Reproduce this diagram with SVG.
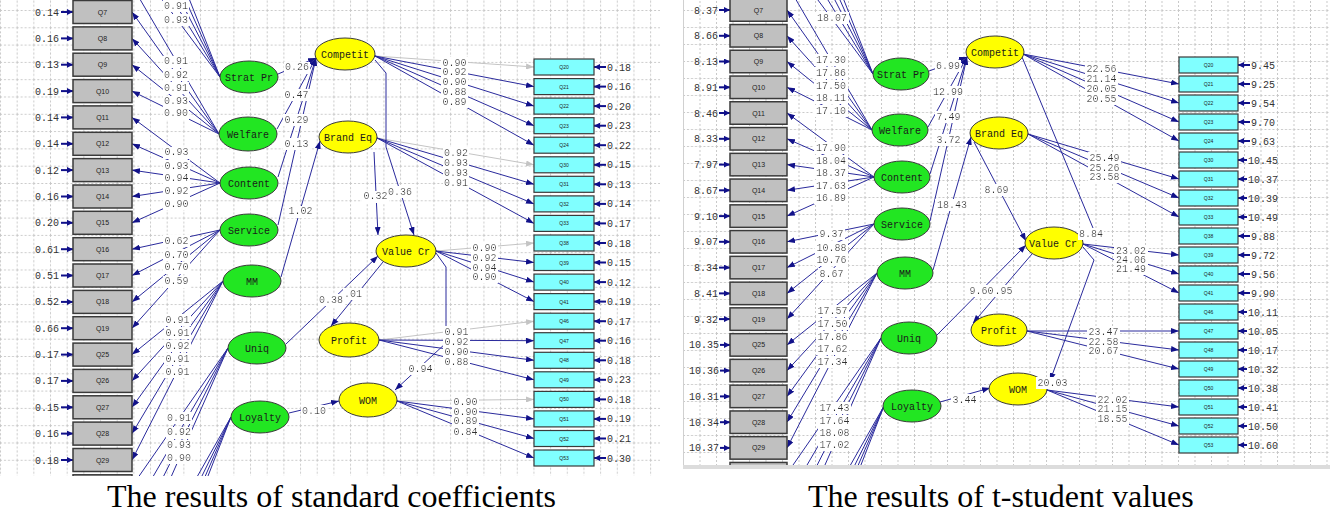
<svg xmlns="http://www.w3.org/2000/svg" width="1330" height="513" viewBox="0 0 1330 513">
<style>
.ln{fill:none;stroke:#2a2a9c;stroke-width:1;marker-end:url(#ah)}
.lg{fill:none;stroke:#c4c4c4;stroke-width:1;marker-end:url(#ahg)}
.er{fill:none;stroke:#10108a;stroke-width:2;marker-end:url(#ae)}
.lb{font-family:"Liberation Mono",monospace;font-size:10px;fill:#333;text-anchor:middle;filter:url(#bg)}
.ev{font-family:"Liberation Mono",monospace;font-size:10px;fill:#333}
.evr{font-family:"Liberation Mono",monospace;font-size:10px;fill:#333;text-anchor:end}
.nm{font-family:"Liberation Mono",monospace;font-size:10px;fill:#1a1a1a;text-anchor:middle}
.gb{fill:#c0c0c0;stroke:#3a3a3a;stroke-width:1.5}
.cb{fill:#80ffff;stroke:#3a3a3a;stroke-width:1.2}
.ge{fill:#22e622;stroke:#3a3a3a;stroke-width:1}
.ye{fill:#ffff00;stroke:#3a3a3a;stroke-width:1}
.qg{font-family:"Liberation Sans",sans-serif;font-size:7px;fill:#222;text-anchor:middle}
.qc{font-family:"Liberation Sans",sans-serif;font-size:5px;fill:#222;text-anchor:middle}
.cap{font-family:"Liberation Serif","Times New Roman",serif;font-size:32px;fill:#000}
</style>
<defs>
<marker id="ah" viewBox="0 0 8 6" refX="8" refY="3" markerWidth="8" markerHeight="6" markerUnits="userSpaceOnUse" orient="auto"><path d="M0,0L8,3L0,6z" fill="#12128a"/></marker>
<marker id="ahg" viewBox="0 0 8 6" refX="8" refY="3" markerWidth="8" markerHeight="6" markerUnits="userSpaceOnUse" orient="auto"><path d="M0,0L8,3L0,6z" fill="#c4c4c4"/></marker>
<marker id="ae" viewBox="0 0 6 6" refX="6" refY="3" markerWidth="6" markerHeight="6" markerUnits="userSpaceOnUse" orient="auto"><path d="M0,0L6,3L0,6z" fill="#10108a"/></marker>
<filter id="bg" x="-0.04" y="0" width="1.08" height="1"><feFlood flood-color="#ffffff" result="f"/><feComposite in="SourceGraphic" in2="f" operator="over"/></filter>
<pattern id="gridL" x="0" y="10" width="16.67" height="17.3" patternUnits="userSpaceOnUse"><path d="M0.5,0V17.3M0,0.5H16.67" stroke="#c8c8c8" stroke-width="1" stroke-dasharray="2,2" fill="none"/></pattern>
<pattern id="gridR" x="683" y="10" width="16.5" height="17" patternUnits="userSpaceOnUse"><path d="M0.5,0V17M0,0.5H16.5" stroke="#c8c8c8" stroke-width="1" stroke-dasharray="2,2" fill="none"/></pattern>
<clipPath id="cL"><rect x="0" y="0" width="660" height="476"/></clipPath>
<clipPath id="cR"><rect x="683" y="0" width="647" height="465"/></clipPath>
</defs>
<rect x="0" y="0" width="1330" height="513" fill="#ffffff"/>

<!-- ================= LEFT PANEL ================= -->
<g id="left-diagram" clip-path="url(#cL)">
<rect x="0" y="0" width="660" height="476" fill="url(#gridL)"/>
<g id="L-connectors">
<path class="ln" d="M220,77L132,-146.1"/><path class="ln" d="M220,77L132,-119.75"/><path class="ln" d="M220,77L132,-93.4"/><path class="ln" d="M220,77L132,-67.05"/><path class="ln" d="M220,77L132,-40.7"/>
<path class="ln" d="M219,134L132,-14.35"/><path class="ln" d="M219,134L132,12"/><path class="ln" d="M219,134L132,38.4"/><path class="ln" d="M219,134L132,64.7"/><path class="ln" d="M219,134L132,91.1"/>
<path class="ln" d="M220,183L132,117.4"/><path class="ln" d="M220,183L132,143.8"/><path class="ln" d="M220,183L132,170.1"/><path class="ln" d="M220,183L132,196.5"/><path class="ln" d="M220,183L132,222.8"/>
<path class="ln" d="M220,230L132,249.2"/><path class="ln" d="M220,230L132,275.5"/><path class="ln" d="M220,230L132,301.9"/><path class="ln" d="M220,230L132,328.2"/>
<path class="ln" d="M223,281L132,354.6"/><path class="ln" d="M223,281L132,380.9"/><path class="ln" d="M223,281L132,407.3"/><path class="ln" d="M223,281L132,433.6"/><path class="ln" d="M223,281L132,460"/>
<path class="ln" d="M228,348L132,486.3"/><path class="ln" d="M228,348L132,512.7"/><path class="ln" d="M228,348L132,539"/><path class="ln" d="M228,348L132,565.4"/>
<path class="ln" d="M231,417L132,591.7"/><path class="ln" d="M231,417L132,618.1"/><path class="ln" d="M231,417L132,644.4"/><path class="ln" d="M231,417L132,670.8"/>
<path class="lg" d="M375,56L534,67"/><path class="ln" d="M375,56L534,86.6"/><path class="ln" d="M375,56L534,106.1"/><path class="ln" d="M375,56L534,125.7"/><path class="ln" d="M375,56L534,145.2"/>
<path class="lg" d="M377,138L534,164.8"/><path class="ln" d="M377,138L534,184.3"/><path class="ln" d="M377,138L534,203.9"/><path class="ln" d="M377,138L534,223.4"/>
<path class="lg" d="M436,251L534,243"/><path class="ln" d="M436,251L534,262.5"/><path class="ln" d="M436,251L534,282.1"/><path class="ln" d="M436,251L534,301.6"/>
<path class="lg" d="M379,340L534,321.2"/><path class="ln" d="M379,340L534,340.7"/><path class="ln" d="M379,340L534,360.3"/><path class="ln" d="M379,340L534,379.8"/>
<path class="lg" d="M397,401L534,399.4"/><path class="ln" d="M397,401L534,418.9"/><path class="ln" d="M397,401L534,438.5"/><path class="ln" d="M397,401L534,458"/>
<path class="ln" d="M278,74L316,58"/><path class="ln" d="M277,129L316,58"/><path class="ln" d="M278,177L316,58"/><path class="ln" d="M278,225L316,58"/>
<path class="ln" d="M281,277L320,141"/>
<path class="ln" d="M374,152L378,235"/>
<path class="ln" d="M375,60L386,73L386,147L414,235"/>
<path class="ln" d="M286,344L378,256"/>
<path class="ln" d="M383,262L331,326"/>
<path class="ln" d="M436,253L446,267L446,343L395,390"/>
<path class="ln" d="M289,413L339,401"/>
<path class="er" d="M61,12H73"/><path class="er" d="M61,38.4H73"/><path class="er" d="M61,64.7H73"/><path class="er" d="M61,91.1H73"/><path class="er" d="M61,117.4H73"/><path class="er" d="M61,143.8H73"/><path class="er" d="M61,170.1H73"/><path class="er" d="M61,196.5H73"/><path class="er" d="M61,222.8H73"/><path class="er" d="M61,249.2H73"/><path class="er" d="M61,275.5H73"/><path class="er" d="M61,301.9H73"/><path class="er" d="M61,328.2H73"/><path class="er" d="M61,354.6H73"/><path class="er" d="M61,380.9H73"/><path class="er" d="M61,407.3H73"/><path class="er" d="M61,433.6H73"/><path class="er" d="M61,460H73"/>
<path class="er" d="M606,67H594"/><path class="er" d="M606,86.6H594"/><path class="er" d="M606,106.1H594"/><path class="er" d="M606,125.7H594"/><path class="er" d="M606,145.2H594"/><path class="er" d="M606,164.8H594"/><path class="er" d="M606,184.3H594"/><path class="er" d="M606,203.9H594"/><path class="er" d="M606,223.4H594"/><path class="er" d="M606,243H594"/><path class="er" d="M606,262.5H594"/><path class="er" d="M606,282.1H594"/><path class="er" d="M606,301.6H594"/><path class="er" d="M606,321.2H594"/><path class="er" d="M606,340.7H594"/><path class="er" d="M606,360.3H594"/><path class="er" d="M606,379.8H594"/><path class="er" d="M606,399.4H594"/><path class="er" d="M606,418.9H594"/><path class="er" d="M606,438.5H594"/><path class="er" d="M606,458H594"/>
</g>
<g id="L-Q7"><rect class="gb" x="73" y="0.5" width="59" height="23"/><text class="qg" x="102.5" y="14.5">Q7</text></g>
<g id="L-Q8"><rect class="gb" x="73" y="26.9" width="59" height="23"/><text class="qg" x="102.5" y="40.9">Q8</text></g>
<g id="L-Q9"><rect class="gb" x="73" y="53.2" width="59" height="23"/><text class="qg" x="102.5" y="67.2">Q9</text></g>
<g id="L-Q10"><rect class="gb" x="73" y="79.6" width="59" height="23"/><text class="qg" x="102.5" y="93.6">Q10</text></g>
<g id="L-Q11"><rect class="gb" x="73" y="105.9" width="59" height="23"/><text class="qg" x="102.5" y="119.9">Q11</text></g>
<g id="L-Q12"><rect class="gb" x="73" y="132.3" width="59" height="23"/><text class="qg" x="102.5" y="146.3">Q12</text></g>
<g id="L-Q13"><rect class="gb" x="73" y="158.6" width="59" height="23"/><text class="qg" x="102.5" y="172.6">Q13</text></g>
<g id="L-Q14"><rect class="gb" x="73" y="185" width="59" height="23"/><text class="qg" x="102.5" y="199">Q14</text></g>
<g id="L-Q15"><rect class="gb" x="73" y="211.3" width="59" height="23"/><text class="qg" x="102.5" y="225.3">Q15</text></g>
<g id="L-Q16"><rect class="gb" x="73" y="237.7" width="59" height="23"/><text class="qg" x="102.5" y="251.7">Q16</text></g>
<g id="L-Q17"><rect class="gb" x="73" y="264" width="59" height="23"/><text class="qg" x="102.5" y="278">Q17</text></g>
<g id="L-Q18"><rect class="gb" x="73" y="290.4" width="59" height="23"/><text class="qg" x="102.5" y="304.4">Q18</text></g>
<g id="L-Q19"><rect class="gb" x="73" y="316.7" width="59" height="23"/><text class="qg" x="102.5" y="330.7">Q19</text></g>
<g id="L-Q25"><rect class="gb" x="73" y="343.1" width="59" height="23"/><text class="qg" x="102.5" y="357.1">Q25</text></g>
<g id="L-Q26"><rect class="gb" x="73" y="369.4" width="59" height="23"/><text class="qg" x="102.5" y="383.4">Q26</text></g>
<g id="L-Q27"><rect class="gb" x="73" y="395.8" width="59" height="23"/><text class="qg" x="102.5" y="409.8">Q27</text></g>
<g id="L-Q28"><rect class="gb" x="73" y="422.1" width="59" height="23"/><text class="qg" x="102.5" y="436.1">Q28</text></g>
<g id="L-Q29"><rect class="gb" x="73" y="448.5" width="59" height="23"/><text class="qg" x="102.5" y="462.5">Q29</text></g>
<g id="L-Qnext"><rect class="gb" x="73" y="474.8" width="59" height="23"/></g>
<g id="L-StratPr"><ellipse class="ge" cx="249" cy="77" rx="29" ry="16"/><text class="nm" x="249" y="80.5">Strat Pr</text></g>
<g id="L-Welfare"><ellipse class="ge" cx="248" cy="134" rx="29" ry="17"/><text class="nm" x="248" y="137.5">Welfare</text></g>
<g id="L-Content"><ellipse class="ge" cx="249" cy="183" rx="29" ry="16"/><text class="nm" x="249" y="186.5">Content</text></g>
<g id="L-Service"><ellipse class="ge" cx="249" cy="230" rx="29" ry="16"/><text class="nm" x="249" y="233.5">Service</text></g>
<g id="L-MM"><ellipse class="ge" cx="252" cy="281" rx="29" ry="16"/><text class="nm" x="252" y="284.5">MM</text></g>
<g id="L-Uniq"><ellipse class="ge" cx="257" cy="348" rx="29" ry="16"/><text class="nm" x="257" y="351.5">Uniq</text></g>
<g id="L-Loyalty"><ellipse class="ge" cx="260" cy="417" rx="29" ry="16"/><text class="nm" x="260" y="420.5">Loyalty</text></g>
<g id="L-Competit"><ellipse class="ye" cx="345" cy="54" rx="30" ry="16"/><text class="nm" x="345" y="57.5">Competit</text></g>
<g id="L-BrandEq"><ellipse class="ye" cx="348" cy="137" rx="29" ry="16"/><text class="nm" x="348" y="140.5">Brand Eq</text></g>
<g id="L-ValueCr"><ellipse class="ye" cx="406" cy="251" rx="30" ry="16"/><text class="nm" x="406" y="254.5">Value Cr</text></g>
<g id="L-Profit"><ellipse class="ye" cx="349" cy="340" rx="30" ry="17"/><text class="nm" x="349" y="343.5">Profit</text></g>
<g id="L-WOM"><ellipse class="ye" cx="368" cy="400" rx="29" ry="17"/><text class="nm" x="368" y="403.5">WOM</text></g>
<g id="L-C20"><rect class="cb" x="534" y="59" width="60" height="16"/><text class="qc" x="564" y="69">Q20</text></g>
<g id="L-C21"><rect class="cb" x="534" y="78.6" width="60" height="16"/><text class="qc" x="564" y="88.6">Q21</text></g>
<g id="L-C22"><rect class="cb" x="534" y="98.1" width="60" height="16"/><text class="qc" x="564" y="108.1">Q22</text></g>
<g id="L-C23"><rect class="cb" x="534" y="117.7" width="60" height="16"/><text class="qc" x="564" y="127.7">Q23</text></g>
<g id="L-C24"><rect class="cb" x="534" y="137.2" width="60" height="16"/><text class="qc" x="564" y="147.2">Q24</text></g>
<g id="L-C30"><rect class="cb" x="534" y="156.8" width="60" height="16"/><text class="qc" x="564" y="166.8">Q30</text></g>
<g id="L-C31"><rect class="cb" x="534" y="176.3" width="60" height="16"/><text class="qc" x="564" y="186.3">Q31</text></g>
<g id="L-C32"><rect class="cb" x="534" y="195.9" width="60" height="16"/><text class="qc" x="564" y="205.9">Q32</text></g>
<g id="L-C33"><rect class="cb" x="534" y="215.4" width="60" height="16"/><text class="qc" x="564" y="225.4">Q33</text></g>
<g id="L-C38"><rect class="cb" x="534" y="235" width="60" height="16"/><text class="qc" x="564" y="245">Q38</text></g>
<g id="L-C39"><rect class="cb" x="534" y="254.5" width="60" height="16"/><text class="qc" x="564" y="264.5">Q39</text></g>
<g id="L-C40"><rect class="cb" x="534" y="274.1" width="60" height="16"/><text class="qc" x="564" y="284.1">Q40</text></g>
<g id="L-C41"><rect class="cb" x="534" y="293.6" width="60" height="16"/><text class="qc" x="564" y="303.6">Q41</text></g>
<g id="L-C46"><rect class="cb" x="534" y="313.2" width="60" height="16"/><text class="qc" x="564" y="323.2">Q46</text></g>
<g id="L-C47"><rect class="cb" x="534" y="332.7" width="60" height="16"/><text class="qc" x="564" y="342.7">Q47</text></g>
<g id="L-C48"><rect class="cb" x="534" y="352.3" width="60" height="16"/><text class="qc" x="564" y="362.3">Q48</text></g>
<g id="L-C49"><rect class="cb" x="534" y="371.8" width="60" height="16"/><text class="qc" x="564" y="381.8">Q49</text></g>
<g id="L-C50"><rect class="cb" x="534" y="391.4" width="60" height="16"/><text class="qc" x="564" y="401.4">Q50</text></g>
<g id="L-C51"><rect class="cb" x="534" y="410.9" width="60" height="16"/><text class="qc" x="564" y="420.9">Q51</text></g>
<g id="L-C52"><rect class="cb" x="534" y="430.5" width="60" height="16"/><text class="qc" x="564" y="440.5">Q52</text></g>
<g id="L-C53"><rect class="cb" x="534" y="450" width="60" height="16"/><text class="qc" x="564" y="460">Q53</text></g>
<g id="L-labels">
<text class="evr" x="59" y="15.5">0.14</text><text class="evr" x="59" y="41.9">0.16</text><text class="evr" x="59" y="68.2">0.13</text><text class="evr" x="59" y="94.6">0.19</text><text class="evr" x="59" y="120.9">0.14</text><text class="evr" x="59" y="147.3">0.14</text><text class="evr" x="59" y="173.6">0.12</text><text class="evr" x="59" y="200">0.16</text><text class="evr" x="59" y="226.3">0.20</text><text class="evr" x="59" y="252.7">0.61</text><text class="evr" x="59" y="279">0.51</text><text class="evr" x="59" y="305.4">0.52</text><text class="evr" x="59" y="331.7">0.66</text><text class="evr" x="59" y="358.1">0.17</text><text class="evr" x="59" y="384.4">0.17</text><text class="evr" x="59" y="410.8">0.15</text><text class="evr" x="59" y="437.1">0.16</text><text class="evr" x="59" y="463.5">0.18</text>
<text class="ev" x="607" y="70.5">0.18</text><text class="ev" x="607" y="90.1">0.16</text><text class="ev" x="607" y="109.6">0.20</text><text class="ev" x="607" y="129.2">0.23</text><text class="ev" x="607" y="148.7">0.22</text><text class="ev" x="607" y="168.3">0.15</text><text class="ev" x="607" y="187.8">0.13</text><text class="ev" x="607" y="207.4">0.14</text><text class="ev" x="607" y="226.9">0.17</text><text class="ev" x="607" y="246.5">0.18</text><text class="ev" x="607" y="266">0.15</text><text class="ev" x="607" y="285.6">0.12</text><text class="ev" x="607" y="305.1">0.19</text><text class="ev" x="607" y="324.7">0.17</text><text class="ev" x="607" y="344.2">0.16</text><text class="ev" x="607" y="363.8">0.18</text><text class="ev" x="607" y="383.3">0.23</text><text class="ev" x="607" y="402.9">0.18</text><text class="ev" x="607" y="422.4">0.19</text><text class="ev" x="607" y="442">0.21</text><text class="ev" x="607" y="461.5">0.30</text>
<text class="lb" x="176" y="8.5">0.91</text><text class="lb" x="176" y="22.5">0.93</text>
<text class="lb" x="176" y="64.2">0.91</text><text class="lb" x="176" y="77.5">0.92</text><text class="lb" x="176" y="90.8">0.91</text><text class="lb" x="176" y="104.2">0.93</text><text class="lb" x="176" y="116.2">0.90</text>
<text class="lb" x="176.5" y="155.2">0.93</text><text class="lb" x="176.5" y="168.5">0.93</text><text class="lb" x="176.5" y="181.2">0.94</text><text class="lb" x="176.5" y="194.2">0.92</text><text class="lb" x="176.5" y="206.8">0.90</text>
<text class="lb" x="176.5" y="243.5">0.62</text><text class="lb" x="176.5" y="257.5">0.70</text><text class="lb" x="176.5" y="270.2">0.70</text><text class="lb" x="176.5" y="284.2">0.59</text>
<text class="lb" x="177.5" y="322.5">0.91</text><text class="lb" x="177.5" y="335.5">0.91</text><text class="lb" x="177.5" y="348.5">0.92</text><text class="lb" x="177.5" y="361.8">0.91</text><text class="lb" x="177.5" y="374.5">0.91</text>
<text class="lb" x="179" y="420.8">0.91</text><text class="lb" x="179" y="435.2">0.92</text><text class="lb" x="179" y="448.2">0.93</text><text class="lb" x="179" y="460.5">0.90</text>
<text class="lb" x="454.5" y="65.5">0.90</text><text class="lb" x="454.5" y="74.5">0.92</text><text class="lb" x="454.5" y="84.5">0.90</text><text class="lb" x="454.5" y="94.5">0.88</text><text class="lb" x="454.5" y="104.5">0.89</text>
<text class="lb" x="456" y="155.5">0.92</text><text class="lb" x="456" y="165.5">0.93</text><text class="lb" x="456" y="175.5">0.93</text><text class="lb" x="456" y="185.5">0.91</text>
<text class="lb" x="484.5" y="250.5">0.90</text><text class="lb" x="484.5" y="260.5">0.92</text><text class="lb" x="484.5" y="270.5">0.94</text><text class="lb" x="484.5" y="279.5">0.90</text>
<text class="lb" x="456.5" y="334.5">0.91</text><text class="lb" x="456.5" y="344.5">0.92</text><text class="lb" x="456.5" y="354.5">0.90</text><text class="lb" x="456.5" y="364.5">0.88</text>
<text class="lb" x="465.5" y="404.5">0.90</text><text class="lb" x="465.5" y="414.5">0.90</text><text class="lb" x="465.5" y="423.5">0.89</text><text class="lb" x="465.5" y="434.5">0.84</text>
<text class="lb" x="297" y="70.2">0.26</text><text class="lb" x="296.5" y="97.8">0.47</text><text class="lb" x="296.5" y="122.5">0.29</text><text class="lb" x="296.5" y="146.8">0.13</text>
<text class="lb" x="300.5" y="214.2">1.02</text><text class="lb" x="375.5" y="199.2">0.32</text><text class="lb" x="400" y="194.5">0.36</text>
<text class="lb" x="353" y="296.5">.01</text><text class="lb" x="331" y="302.5">0.38</text>
<text class="lb" x="420.5" y="371.5">0.94</text><text class="lb" x="314" y="413.5">0.10</text>
</g>
</g>

<!-- ================= RIGHT PANEL ================= -->
<g id="right-diagram" clip-path="url(#cR)">
<rect x="683" y="0" width="647" height="465" fill="url(#gridR)"/>
<g id="R-connectors">
<path class="ln" d="M873,74L787,-144.56"/><path class="ln" d="M873,74L787,-118.8"/><path class="ln" d="M873,74L787,-93.04"/><path class="ln" d="M873,74L787,-67.28"/><path class="ln" d="M873,74L787,-41.52"/>
<path class="ln" d="M872,130L787,-15.76"/><path class="ln" d="M872,130L787,10"/><path class="ln" d="M872,130L787,35.8"/><path class="ln" d="M872,130L787,61.5"/><path class="ln" d="M872,130L787,87.3"/>
<path class="ln" d="M874,177L787,113"/><path class="ln" d="M874,177L787,138.8"/><path class="ln" d="M874,177L787,164.6"/><path class="ln" d="M874,177L787,190.3"/><path class="ln" d="M874,177L787,216.1"/>
<path class="ln" d="M874,224L787,241.8"/><path class="ln" d="M874,224L787,267.6"/><path class="ln" d="M874,224L787,293.4"/><path class="ln" d="M874,224L787,319.1"/>
<path class="ln" d="M877,273L787,344.9"/><path class="ln" d="M877,273L787,370.6"/><path class="ln" d="M877,273L787,396.4"/><path class="ln" d="M877,273L787,422.2"/><path class="ln" d="M877,273L787,447.9"/>
<path class="ln" d="M881,338L787,473.7"/><path class="ln" d="M881,338L787,499.46"/><path class="ln" d="M881,338L787,525.22"/><path class="ln" d="M881,338L787,550.98"/>
<path class="ln" d="M884,406L787,576.74"/><path class="ln" d="M884,406L787,602.5"/><path class="ln" d="M884,406L787,628.26"/><path class="ln" d="M884,406L787,654.02"/>
<path class="ln" d="M1023,54L1179,84"/><path class="ln" d="M1023,54L1179,103"/><path class="ln" d="M1023,54L1179,122"/><path class="ln" d="M1023,54L1179,141"/>
<path class="ln" d="M1028,134L1179,179"/><path class="ln" d="M1028,134L1179,198"/><path class="ln" d="M1028,134L1179,217"/>
<path class="ln" d="M1083,244L1179,255"/><path class="ln" d="M1083,244L1179,274"/><path class="ln" d="M1083,244L1179,293"/>
<path class="ln" d="M1027,331L1179,331"/><path class="ln" d="M1027,331L1179,350"/><path class="ln" d="M1027,331L1179,369"/>
<path class="ln" d="M1047,390L1179,407"/><path class="ln" d="M1047,390L1179,426"/><path class="ln" d="M1047,390L1179,445"/>
<path class="ln" d="M929,71L967,57"/><path class="ln" d="M928,127L967,57"/><path class="ln" d="M930,174L967,57"/><path class="ln" d="M930,221L967,57"/>
<path class="ln" d="M933,270L971,137"/>
<path class="ln" d="M974,142L1026,241"/>
<path class="ln" d="M1022,57L1093,228L1084,240"/>
<path class="ln" d="M937,335L1026,245"/>
<path class="ln" d="M1032,254L973,323"/>
<path class="ln" d="M1083,247L1094,260L1050,381"/>
<path class="ln" d="M940,402L990,388"/>
<path class="er" d="M719,10H730"/><path class="er" d="M719,35.8H730"/><path class="er" d="M719,61.5H730"/><path class="er" d="M719,87.3H730"/><path class="er" d="M719,113H730"/><path class="er" d="M719,138.8H730"/><path class="er" d="M719,164.6H730"/><path class="er" d="M719,190.3H730"/><path class="er" d="M719,216.1H730"/><path class="er" d="M719,241.8H730"/><path class="er" d="M719,267.6H730"/><path class="er" d="M719,293.4H730"/><path class="er" d="M719,319.1H730"/><path class="er" d="M720,344.9H730"/><path class="er" d="M720,370.6H730"/><path class="er" d="M720,396.4H730"/><path class="er" d="M720,422.2H730"/><path class="er" d="M720,447.9H730"/>
<path class="er" d="M1250,65H1238"/><path class="er" d="M1250,84H1238"/><path class="er" d="M1250,103H1238"/><path class="er" d="M1250,122H1238"/><path class="er" d="M1250,141H1238"/><path class="er" d="M1247,160H1238"/><path class="er" d="M1247,179H1238"/><path class="er" d="M1247,198H1238"/><path class="er" d="M1247,217H1238"/><path class="er" d="M1250,236H1238"/><path class="er" d="M1250,255H1238"/><path class="er" d="M1250,274H1238"/><path class="er" d="M1250,293H1238"/><path class="er" d="M1247,312H1238"/><path class="er" d="M1247,331H1238"/><path class="er" d="M1247,350H1238"/><path class="er" d="M1247,369H1238"/><path class="er" d="M1247,388H1238"/><path class="er" d="M1247,407H1238"/><path class="er" d="M1247,426H1238"/><path class="er" d="M1247,445H1238"/>
</g>
<g id="R-Q7"><rect class="gb" x="730" y="-1.25" width="57" height="22.5"/><text class="qg" x="758.5" y="12.5">Q7</text></g>
<g id="R-Q8"><rect class="gb" x="730" y="24.55" width="57" height="22.5"/><text class="qg" x="758.5" y="38.3">Q8</text></g>
<g id="R-Q9"><rect class="gb" x="730" y="50.25" width="57" height="22.5"/><text class="qg" x="758.5" y="64">Q9</text></g>
<g id="R-Q10"><rect class="gb" x="730" y="76.05" width="57" height="22.5"/><text class="qg" x="758.5" y="89.8">Q10</text></g>
<g id="R-Q11"><rect class="gb" x="730" y="101.75" width="57" height="22.5"/><text class="qg" x="758.5" y="115.5">Q11</text></g>
<g id="R-Q12"><rect class="gb" x="730" y="127.55" width="57" height="22.5"/><text class="qg" x="758.5" y="141.3">Q12</text></g>
<g id="R-Q13"><rect class="gb" x="730" y="153.35" width="57" height="22.5"/><text class="qg" x="758.5" y="167.1">Q13</text></g>
<g id="R-Q14"><rect class="gb" x="730" y="179.05" width="57" height="22.5"/><text class="qg" x="758.5" y="192.8">Q14</text></g>
<g id="R-Q15"><rect class="gb" x="730" y="204.85" width="57" height="22.5"/><text class="qg" x="758.5" y="218.6">Q15</text></g>
<g id="R-Q16"><rect class="gb" x="730" y="230.55" width="57" height="22.5"/><text class="qg" x="758.5" y="244.3">Q16</text></g>
<g id="R-Q17"><rect class="gb" x="730" y="256.35" width="57" height="22.5"/><text class="qg" x="758.5" y="270.1">Q17</text></g>
<g id="R-Q18"><rect class="gb" x="730" y="282.15" width="57" height="22.5"/><text class="qg" x="758.5" y="295.9">Q18</text></g>
<g id="R-Q19"><rect class="gb" x="730" y="307.85" width="57" height="22.5"/><text class="qg" x="758.5" y="321.6">Q19</text></g>
<g id="R-Q25"><rect class="gb" x="730" y="333.65" width="57" height="22.5"/><text class="qg" x="758.5" y="347.4">Q25</text></g>
<g id="R-Q26"><rect class="gb" x="730" y="359.35" width="57" height="22.5"/><text class="qg" x="758.5" y="373.1">Q26</text></g>
<g id="R-Q27"><rect class="gb" x="730" y="385.15" width="57" height="22.5"/><text class="qg" x="758.5" y="398.9">Q27</text></g>
<g id="R-Q28"><rect class="gb" x="730" y="410.95" width="57" height="22.5"/><text class="qg" x="758.5" y="424.7">Q28</text></g>
<g id="R-Q29"><rect class="gb" x="730" y="436.65" width="57" height="22.5"/><text class="qg" x="758.5" y="450.4">Q29</text></g>
<g id="R-Qnext"><rect class="gb" x="730" y="462.45" width="57" height="22.5"/></g>
<g id="R-StratPr"><ellipse class="ge" cx="901" cy="74" rx="28" ry="16"/><text class="nm" x="901" y="77.5">Strat Pr</text></g>
<g id="R-Welfare"><ellipse class="ge" cx="900" cy="130" rx="28" ry="16"/><text class="nm" x="900" y="133.5">Welfare</text></g>
<g id="R-Content"><ellipse class="ge" cx="902" cy="177" rx="28" ry="16"/><text class="nm" x="902" y="180.5">Content</text></g>
<g id="R-Service"><ellipse class="ge" cx="902" cy="224" rx="28" ry="16"/><text class="nm" x="902" y="227.5">Service</text></g>
<g id="R-MM"><ellipse class="ge" cx="905" cy="273" rx="28" ry="16"/><text class="nm" x="905" y="276.5">MM</text></g>
<g id="R-Uniq"><ellipse class="ge" cx="909" cy="338" rx="28" ry="16"/><text class="nm" x="909" y="341.5">Uniq</text></g>
<g id="R-Loyalty"><ellipse class="ge" cx="912" cy="406" rx="29" ry="16"/><text class="nm" x="912" y="409.5">Loyalty</text></g>
<g id="R-Competit"><ellipse class="ye" cx="995" cy="52" rx="29" ry="16"/><text class="nm" x="995" y="55.5">Competit</text></g>
<g id="R-BrandEq"><ellipse class="ye" cx="999" cy="133" rx="29" ry="16"/><text class="nm" x="999" y="136.5">Brand Eq</text></g>
<g id="R-ValueCr"><ellipse class="ye" cx="1054" cy="243" rx="29" ry="16"/><text class="nm" x="1053" y="246.5">Value Cr</text></g>
<g id="R-Profit"><ellipse class="ye" cx="999" cy="330" rx="28" ry="16"/><text class="nm" x="999" y="333.5">Profit</text></g>
<g id="R-WOM"><ellipse class="ye" cx="1018" cy="389" rx="29" ry="16"/><text class="nm" x="1018" y="392.5">WOM</text></g>
<g id="R-C20"><rect class="cb" x="1179" y="57" width="59" height="16"/><text class="qc" x="1208.5" y="67">Q20</text></g>
<g id="R-C21"><rect class="cb" x="1179" y="76" width="59" height="16"/><text class="qc" x="1208.5" y="86">Q21</text></g>
<g id="R-C22"><rect class="cb" x="1179" y="95" width="59" height="16"/><text class="qc" x="1208.5" y="105">Q22</text></g>
<g id="R-C23"><rect class="cb" x="1179" y="114" width="59" height="16"/><text class="qc" x="1208.5" y="124">Q23</text></g>
<g id="R-C24"><rect class="cb" x="1179" y="133" width="59" height="16"/><text class="qc" x="1208.5" y="143">Q24</text></g>
<g id="R-C30"><rect class="cb" x="1179" y="152" width="59" height="16"/><text class="qc" x="1208.5" y="162">Q30</text></g>
<g id="R-C31"><rect class="cb" x="1179" y="171" width="59" height="16"/><text class="qc" x="1208.5" y="181">Q31</text></g>
<g id="R-C32"><rect class="cb" x="1179" y="190" width="59" height="16"/><text class="qc" x="1208.5" y="200">Q32</text></g>
<g id="R-C33"><rect class="cb" x="1179" y="209" width="59" height="16"/><text class="qc" x="1208.5" y="219">Q33</text></g>
<g id="R-C38"><rect class="cb" x="1179" y="228" width="59" height="16"/><text class="qc" x="1208.5" y="238">Q38</text></g>
<g id="R-C39"><rect class="cb" x="1179" y="247" width="59" height="16"/><text class="qc" x="1208.5" y="257">Q39</text></g>
<g id="R-C40"><rect class="cb" x="1179" y="266" width="59" height="16"/><text class="qc" x="1208.5" y="276">Q40</text></g>
<g id="R-C41"><rect class="cb" x="1179" y="285" width="59" height="16"/><text class="qc" x="1208.5" y="295">Q41</text></g>
<g id="R-C46"><rect class="cb" x="1179" y="304" width="59" height="16"/><text class="qc" x="1208.5" y="314">Q46</text></g>
<g id="R-C47"><rect class="cb" x="1179" y="323" width="59" height="16"/><text class="qc" x="1208.5" y="333">Q47</text></g>
<g id="R-C48"><rect class="cb" x="1179" y="342" width="59" height="16"/><text class="qc" x="1208.5" y="352">Q48</text></g>
<g id="R-C49"><rect class="cb" x="1179" y="361" width="59" height="16"/><text class="qc" x="1208.5" y="371">Q49</text></g>
<g id="R-C50"><rect class="cb" x="1179" y="380" width="59" height="16"/><text class="qc" x="1208.5" y="390">Q50</text></g>
<g id="R-C51"><rect class="cb" x="1179" y="399" width="59" height="16"/><text class="qc" x="1208.5" y="409">Q51</text></g>
<g id="R-C52"><rect class="cb" x="1179" y="418" width="59" height="16"/><text class="qc" x="1208.5" y="428">Q52</text></g>
<g id="R-C53"><rect class="cb" x="1179" y="437" width="59" height="16"/><text class="qc" x="1208.5" y="447">Q53</text></g>
<g id="R-labels">
<text class="evr" x="718" y="13.5">8.37</text><text class="evr" x="718" y="39.3">8.66</text><text class="evr" x="718" y="65">8.13</text><text class="evr" x="718" y="90.8">8.91</text><text class="evr" x="718" y="116.5">8.46</text><text class="evr" x="718" y="142.3">8.33</text><text class="evr" x="718" y="168.1">7.97</text><text class="evr" x="718" y="193.8">8.67</text><text class="evr" x="718" y="219.6">9.10</text><text class="evr" x="718" y="245.3">9.07</text><text class="evr" x="718" y="271.1">8.34</text><text class="evr" x="718" y="296.9">8.41</text><text class="evr" x="718" y="322.6">9.32</text><text class="evr" x="719" y="348.4">10.35</text><text class="evr" x="719" y="374.1">10.36</text><text class="evr" x="719" y="399.9">10.31</text><text class="evr" x="719" y="425.7">10.34</text><text class="evr" x="719" y="451.4">10.37</text>
<text class="ev" x="1251" y="68.5">9.45</text><text class="ev" x="1251" y="87.5">9.25</text><text class="ev" x="1251" y="106.5">9.54</text><text class="ev" x="1251" y="125.5">9.70</text><text class="ev" x="1251" y="144.5">9.63</text><text class="ev" x="1248" y="163.5">10.45</text><text class="ev" x="1248" y="182.5">10.37</text><text class="ev" x="1248" y="201.5">10.39</text><text class="ev" x="1248" y="220.5">10.49</text><text class="ev" x="1251" y="239.5">9.88</text><text class="ev" x="1251" y="258.5">9.72</text><text class="ev" x="1251" y="277.5">9.56</text><text class="ev" x="1251" y="296.5">9.90</text><text class="ev" x="1248" y="315.5">10.11</text><text class="ev" x="1248" y="334.5">10.05</text><text class="ev" x="1248" y="353.5">10.17</text><text class="ev" x="1248" y="372.5">10.32</text><text class="ev" x="1248" y="391.5">10.38</text><text class="ev" x="1248" y="410.5">10.41</text><text class="ev" x="1248" y="429.5">10.50</text><text class="ev" x="1248" y="448.5">10.60</text>
<text class="lb" x="832" y="20.5">18.07</text>
<text class="lb" x="831" y="62.5">17.30</text><text class="lb" x="831" y="75.5">17.86</text><text class="lb" x="831" y="88.5">17.50</text><text class="lb" x="831" y="100.5">18.11</text><text class="lb" x="831" y="113.5">17.10</text>
<text class="lb" x="831" y="150.5">17.90</text><text class="lb" x="831" y="163.5">18.04</text><text class="lb" x="831" y="175.5">18.37</text><text class="lb" x="831" y="188.5">17.63</text><text class="lb" x="831" y="200.5">16.89</text>
<text class="lb" x="831.5" y="236.5">9.37</text><text class="lb" x="831.5" y="250.5">10.88</text><text class="lb" x="831.5" y="262.5">10.76</text><text class="lb" x="831.5" y="276.5">8.67</text>
<text class="lb" x="832.5" y="313.5">17.57</text><text class="lb" x="832.5" y="326.5">17.50</text><text class="lb" x="832.5" y="339.5">17.86</text><text class="lb" x="832.5" y="351.5">17.62</text><text class="lb" x="832.5" y="364.5">17.34</text>
<text class="lb" x="834.5" y="410.5">17.43</text><text class="lb" x="834.5" y="423.5">17.64</text><text class="lb" x="834.5" y="435.5">18.08</text><text class="lb" x="834.5" y="447.5">17.02</text>
<text class="lb" x="1101.5" y="71.5">22.56</text><text class="lb" x="1101.5" y="81.5">21.14</text><text class="lb" x="1101.5" y="91.5">20.05</text><text class="lb" x="1101.5" y="101.5">20.55</text>
<text class="lb" x="1104.5" y="160.5">25.49</text><text class="lb" x="1104.5" y="170.5">25.26</text><text class="lb" x="1104.5" y="179.5">23.58</text>
<text class="lb" x="1131" y="253.5">23.02</text><text class="lb" x="1131" y="262.5">24.06</text><text class="lb" x="1131" y="271.5">21.49</text>
<text class="lb" x="1103.5" y="334.5">23.47</text><text class="lb" x="1103.5" y="344.5">22.58</text><text class="lb" x="1103.5" y="353.5">20.67</text>
<text class="lb" x="1112.5" y="402.5">22.02</text><text class="lb" x="1112.5" y="411.5">21.15</text><text class="lb" x="1112.5" y="421.5">18.55</text>
<text class="lb" x="948" y="68.5">6.99</text><text class="lb" x="948" y="94.5">12.99</text><text class="lb" x="948.5" y="119.5">7.49</text><text class="lb" x="948.5" y="142.5">3.72</text>
<text class="lb" x="952" y="207.5">18.43</text><text class="lb" x="996.5" y="192.5">8.69</text><text class="lb" x="1091" y="236.5">8.84</text>
<text class="lb" x="1003.5" y="293.5">.95</text><text class="lb" x="981.5" y="293.5">9.60</text>
<text class="lb" x="1052.5" y="385.5">20.03</text><text class="lb" x="964.5" y="402.5">3.44</text>
</g>
</g>
<line x1="683.5" y1="0" x2="683.5" y2="467" stroke="#d0d0d0" stroke-width="1"/>
<rect x="683" y="465" width="647" height="4" fill="#dcdcdc"/>

<text class="cap" x="107" y="507">The results of standard coefficients</text>
<text class="cap" x="808" y="507">The results of t-student values</text>
</svg>
